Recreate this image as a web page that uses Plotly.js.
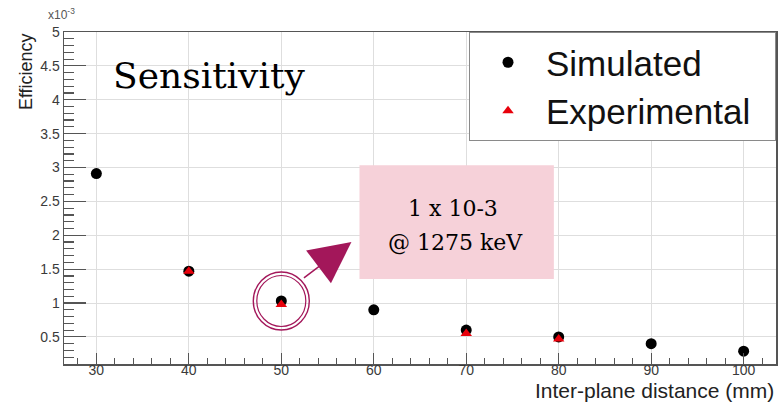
<!DOCTYPE html>
<html>
<head>
<meta charset="utf-8">
<script src="https://cdn.plot.ly/plotly-3.0.1.min.js"></script>
<style>
  html, body { margin: 0; padding: 0; background: #ffffff; }
  #chart { width: 778px; height: 403px; }
</style>
</head>
<body>
<div id="chart"></div>
<script>
// Detection efficiency (in units of 1e-3) versus inter-plane distance
const distSim = [30, 40, 50, 60, 70, 80, 90, 100];
const effSim  = [2.91, 1.47, 1.03, 0.90, 0.60, 0.50, 0.40, 0.29];

const distExp = [40, 50, 70, 80];
const effExp  = [1.47, 0.98, 0.55, 0.47];

const seriesNames = ['Simulated', 'Experimental'];
const highlightIndex = 2; // the 50 mm point
const calloutLines = ['1 x 10-3', '@ 1275 keV'];

const serif = 'DejaVu Serif, Liberation Serif, serif';
const sans = 'Liberation Sans, Arial, sans-serif';
const ring = '#a3175a';
const pad = '\u00a0\u00a0'; // right padding inside the legend box

const traces = [
  {
    x: distSim, y: effSim, name: seriesNames[0] + pad, type: 'scatter', mode: 'markers',
    legendgroup: 'a',
    marker: { symbol: 'circle', size: 11, color: '#000000' }
  },
  {
    x: distExp, y: effExp, name: seriesNames[1] + pad, type: 'scatter', mode: 'markers',
    legendgroup: 'b',
    marker: { symbol: 'triangle-up', size: 10, color: '#e8000b' }
  }
];

const axisCommon = {
  showline: true, linecolor: '#555', linewidth: 1.5, mirror: true,
  showgrid: true, gridcolor: '#dedede', gridwidth: 1,
  zeroline: false, ticks: 'inside', tickcolor: '#555',
  tickfont: { family: sans, size: 14, color: '#3a3a3a' }
};

const layout = {
  width: 778, height: 403,
  margin: { l: 64, r: 2, t: 32, b: 39 },
  paper_bgcolor: '#ffffff', plot_bgcolor: '#ffffff',
  showlegend: true,
  legend: {
    x: 1, xanchor: 'right', y: 1, yanchor: 'top',
    bgcolor: '#ffffff', bordercolor: '#8a8a8a', borderwidth: 1,
    font: { family: sans, size: 35, color: '#111' },
    itemwidth: 66, tracegroupgap: 0
  },
  xaxis: Object.assign({}, axisCommon, {
    range: [26.5, 103.5], tickvals: [30, 40, 50, 60, 70, 80, 90, 100],
    ticklen: 11, tickwidth: 1.2, ticklabelstandoff: -7,
    minor: { dtick: 2, tick0: 0, ticks: 'inside', ticklen: 6, tickcolor: '#555', showgrid: false }
  }),
  yaxis: Object.assign({}, axisCommon, {
    range: [0.1, 5], dtick: 0.5, tick0: 0,
    ticklen: 22, tickwidth: 1.2,
    minor: { dtick: 0.1, tick0: 0, ticks: 'inside', ticklen: 10, tickcolor: '#555', showgrid: false }
  }),
  shapes: [
    // double ring around the highlighted point
    { type: 'circle', xref: 'x', yref: 'y', xsizemode: 'pixel', ysizemode: 'pixel',
      xanchor: distSim[highlightIndex], yanchor: effSim[highlightIndex],
      x0: -28, x1: 28, y0: -29, y1: 29, line: { color: ring, width: 1.4 } },
    { type: 'circle', xref: 'x', yref: 'y', xsizemode: 'pixel', ysizemode: 'pixel',
      xanchor: distSim[highlightIndex], yanchor: effSim[highlightIndex],
      x0: -24.5, x1: 24.5, y0: -25.5, y1: 25.5, line: { color: ring, width: 1.2 } },
    // callout box
    { type: 'rect', xref: 'paper', yref: 'paper', x0: 0.415, x1: 0.688, y0: 0.256, y1: 0.599,
      fillcolor: '#f6d1d9', line: { width: 0 }, layer: 'above' }
  ],
  annotations: [
    { text: 'x10<sup>-3</sup>', xref: 'paper', yref: 'paper', x: -0.003, y: 1.0,
      xanchor: 'center', yanchor: 'bottom', yshift: 8, showarrow: false,
      font: { family: sans, size: 12, color: '#555' } },
    { text: 'Efficiency', xref: 'paper', yref: 'paper', x: -0.053, y: 0.88,
      textangle: -90, xanchor: 'center', yanchor: 'middle', showarrow: false,
      font: { family: sans, size: 18, color: '#222' } },
    { text: 'Inter-plane distance (mm)', xref: 'paper', yref: 'paper', x: 1.0, y: 0,
      xanchor: 'right', yanchor: 'middle', yshift: -26, showarrow: false,
      font: { family: sans, size: 21, color: '#222' } },
    { text: 'Sensitivity', xref: 'paper', yref: 'paper', x: 0.203, y: 0.87,
      xanchor: 'center', yanchor: 'middle', showarrow: false,
      font: { family: serif, size: 36, color: '#000' } },
    { text: calloutLines[0], xref: 'paper', yref: 'paper', x: 0.546, y: 0.467,
      xanchor: 'center', yanchor: 'middle', showarrow: false,
      font: { family: serif, size: 22, color: '#000' } },
    { text: calloutLines[1], xref: 'paper', yref: 'paper', x: 0.55, y: 0.367,
      xanchor: 'center', yanchor: 'middle', showarrow: false,
      font: { family: serif, size: 22, color: '#000' } },
    // arrow from the ring towards the callout
    { text: '', xref: 'paper', yref: 'paper', x: 0.4037, y: 0.3675,
      ax: -49, ay: 37, showarrow: true, arrowhead: 2, arrowsize: 5.5,
      arrowwidth: 1.5, arrowcolor: ring, standoff: 0 }
  ]
};

Plotly.newPlot('chart', traces, layout, { displayModeBar: false, staticPlot: true });
</script>
</body>
</html>
